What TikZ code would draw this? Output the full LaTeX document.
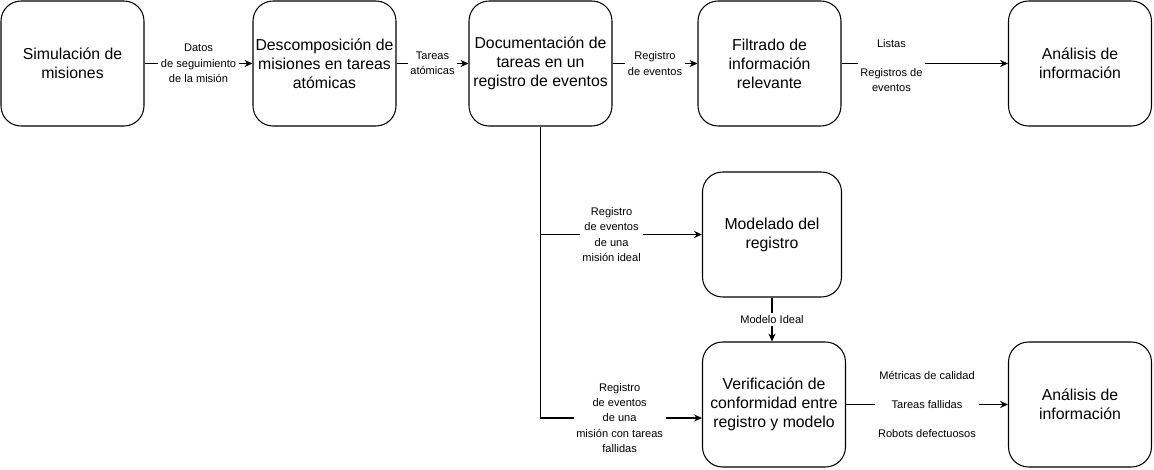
\documentclass[tikz,border=0pt]{standalone}
\usepackage{fontspec}
\setmainfont{Liberation Sans}
\usetikzlibrary{arrows.meta}

\begin{document}
\begin{tikzpicture}[x=0.02cm,y=-0.02cm,line width=0.6pt,
    box/.style={draw,rounded corners=0.4cm,minimum width=2.86cm,minimum height=2.5cm,
      align=center,inner sep=1pt,font=\fontsize{9}{10.8}\selectfont},
    lbl/.style={fill=white,align=center,inner sep=1.5pt,font=\fontsize{6.3}{8.7}\selectfont},
    flow/.style={-{Stealth[length=4.5pt,width=4pt]}}]
  \useasboundingbox (0,0) rectangle (1154,470);

  \begin{scope}[every node/.style={box}]
    \node (sim) at (72.5,63.5) {Simulación de\\misiones};
    \node (desc) at (324.5,63.5) {Descomposición de\\misiones en tareas\\atómicas};
    \node (doc) at (540.5,63.5) {Documentación de\\tareas en un\\registro de eventos};
    \node (filt) at (769.5,63.5) {Filtrado de\\información\\relevante};
    \node (anA) at (1080,63.5) {Análisis de\\información};
    \node[minimum width=2.78cm] (mod) at (772,234.5) {Modelado del\\registro};
    \node (ver) at (774,404.5) {Verificación de\\conformidad entre\\registro y modelo};
    \node (anB) at (1080,404.5) {Análisis de\\información};
  \end{scope}

  \foreach \a/\b/\t in {sim/desc/{Datos\\de seguimiento\\de la misión},
      desc/doc/{Tareas\\atómicas}, doc/filt/{Registro\\de eventos}} {
    \draw[flow] (\a) -- node[lbl] {\t} (\b);
  }
  \draw[flow] (filt) -- node[lbl,pos=0.3,yshift=-0.04cm] {Listas\\[7.6pt]Registros de\\eventos} (anA);

  \draw[flow] (doc.south) |- node[lbl,pos=0.72]
    {Registro\\de eventos\\de una\\misión ideal} (mod.west);
  \draw[flow] (doc.south) |- node[lbl,pos=0.745]
    {Registro\\de eventos\\de una\\misión con tareas\\fallidas} ([yshift=-0.27cm]ver.west);
  \draw[flow] (mod.south) -- node[lbl] {Modelo Ideal} (mod.south |- ver.north);
  \draw[flow] (ver) -- node[lbl]
    {Métricas de calidad\\[7.6pt]Tareas fallidas\\[7.6pt]Robots defectuosos} (anB);
\end{tikzpicture}
\end{document}
